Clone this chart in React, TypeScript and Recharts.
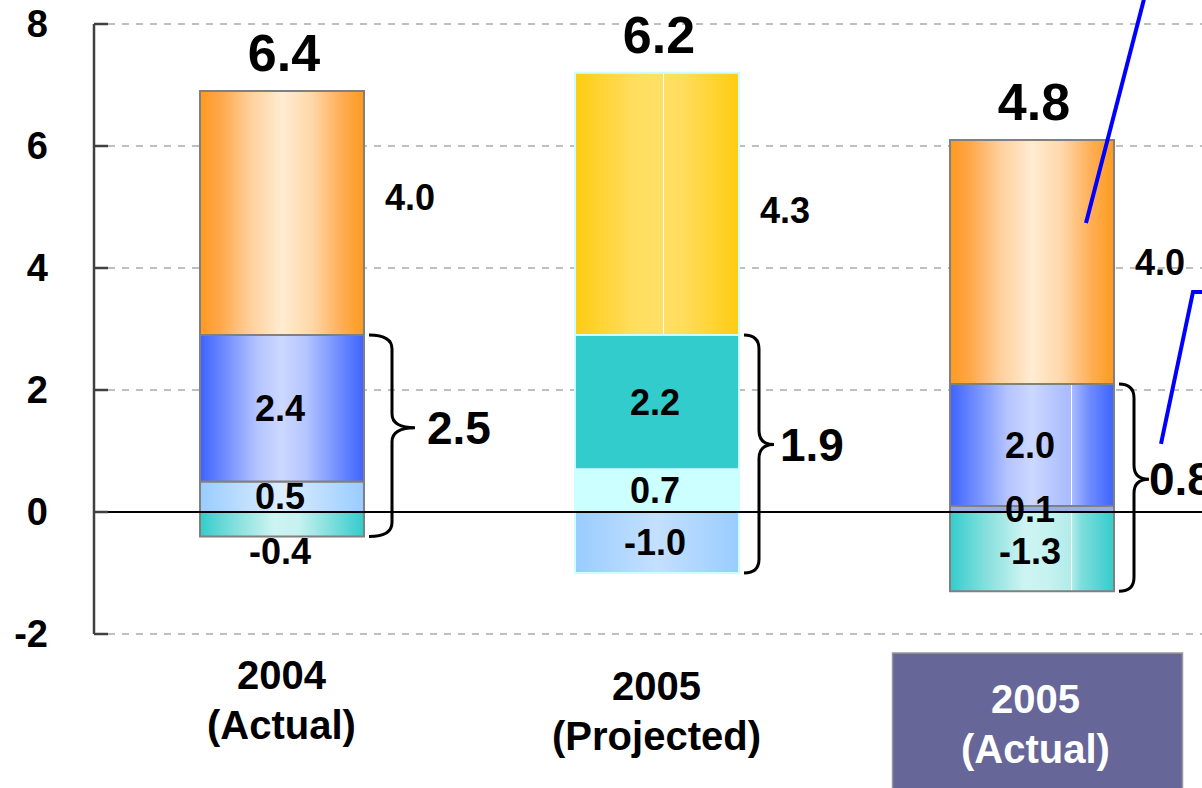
import { BarChart, Bar, XAxis, YAxis, CartesianGrid, ReferenceLine, LabelList, Cell } from 'recharts';

const categories = ['2004 (Actual)', '2005 (Projected)', '2005 (Actual)'];
const baseValues = [0.5, 0.7, 0.1];
const midValues = [2.4, 2.2, 2.0];
const topValues = [4.0, 4.3, 4.0];
const negValues = [-0.4, -1.0, -1.3];
const totals = [6.4, 6.2, 4.8];
const netValues = [2.5, 1.9, 0.8];
const yTicks = [-2, 0, 2, 4, 6, 8];

const data = categories.map((name, i) => ({
  name,
  base: baseValues[i],
  mid: midValues[i],
  top: topValues[i],
  neg: negValues[i],
}));

const FONT = '"Liberation Sans", Arial, sans-serif';

// per-category segment fills and outlines
const baseFills = ['url(#gPale)', '#CCFFFF', '#99AEE0'];
const midFills = ['url(#gBlue)', '#33CCCC', 'url(#gBlueCut)'];
const topFills = ['url(#gOrange)', 'url(#gYellow)', 'url(#gOrange)'];
const negFills = ['url(#gTeal)', 'url(#gSky)', 'url(#gTealCut)'];
const outlines = ['#808080', '#CCFFFF', '#808080'];
const labelDrop = [55, 66, 79];
const sideShift = [-16, 6, 0];
const braceReach = [46, 30, 30];
const braceGap = [12, 6, 0];

const fmt = (v: number) => v.toFixed(1);

const box = (p: any) => {
  const top = Math.min(p.y, p.y + p.height);
  const h = Math.abs(p.height);
  return { top, h, left: p.x, width: p.width, right: p.x + p.width, cx: p.x + p.width / 2 };
};

const Grad = ({ id, stops }: { id: string; stops: [number, string][] }) => (
  <linearGradient id={id} x1="0" y1="0" x2="1" y2="0">
    {stops.map(([o, c], i) => (
      <stop key={i} offset={o} stopColor={c} />
    ))}
  </linearGradient>
);

const withCut = (stops: [number, string][], at: number, c: string): [number, string][] =>
  [...stops.filter(s => s[0] < at), [at - 0.002, c], [at - 0.001, '#fff'], [at + 0.004, '#fff'], [at + 0.005, c], ...stops.filter(s => s[0] > at)];

const blueStops: [number, string][] = [[0, '#3D63FF'], [0.15, '#6F8CFF'], [0.35, '#B4C4FF'], [0.5, '#CCD8FF'], [0.65, '#B4C4FF'], [0.85, '#6F8CFF'], [1, '#3D63FF']];
const tealStops: [number, string][] = [[0, '#33CCCC'], [0.2, '#7FDEDC'], [0.45, '#CCF4F2'], [0.6, '#C6F2F0'], [0.8, '#7FDEDC'], [1, '#33CCCC']];

const ValueTick = ({ x, y, payload }: any) => (
  <g>
    <line x1={x} x2={x + 14} y1={y} y2={y} stroke="#404040" strokeWidth={2.5} />
    <text x={x - 46} y={y} dy="0.35em" textAnchor="end" fontSize={38} fontWeight="bold" fontFamily={FONT} fill="#000">
      {payload.value}
    </text>
  </g>
);

const CategoryTick = ({ x, y, payload, index }: any) => {
  const [year, kind] = String(payload.value).split(' ');
  const boxed = index === 2;
  const base = y + labelDrop[index];
  const tx = boxed ? x + 4 : x;
  return (
    <g fontFamily={FONT} fontWeight="bold" fontSize={40} textAnchor="middle" fill={boxed ? '#fff' : '#000'}>
      {boxed && <rect x={x - 139} y={y + 19} width={290} height={170} fill="#666699" stroke="#999999" strokeWidth={1.5} />}
      <text x={tx} y={base}>{year}</text>
      <text x={tx} y={base + 50}>{kind}</text>
    </g>
  );
};

const InnerLabel = (values: number[]) => (p: any) => {
  const { top, h, cx } = box(p);
  const v = values[p.index];
  const below = v < 0 && h < 30;
  const cy = below ? top + h + 15 : top + h / 2;
  return (
    <text x={cx - 2} y={cy} dy="0.35em" textAnchor="middle" fontSize={36} fontWeight="bold" fontFamily={FONT} fill="#000">
      {fmt(v)}
    </text>
  );
};

// bracket from the top of the middle segment down to the bottom of the negative one
const BraceLabel = (p: any) => {
  const { top, h, right, cx } = box(p);
  const i = p.index;
  const unit = h / midValues[i];
  const zeroY = top + h + baseValues[i] * unit;
  const bottom = zeroY - negValues[i] * unit;
  const x0 = right + 5;
  const xt = x0 + braceReach[i];
  const xv = x0 + braceReach[i] / 2;
  const r = 14;
  const tip = top + (bottom - top) * 0.46;
  const d = `M${x0},${top} Q${xv},${top} ${xv},${top + r} L${xv},${tip - r} Q${xv},${tip} ${xt},${tip} Q${xv},${tip} ${xv},${tip + r} L${xv},${bottom - r} Q${xv},${bottom} ${x0},${bottom}`;
  return (
    <g fontFamily={FONT} fontWeight="bold" fill="#000">
      <text x={cx - 2} y={top + h / 2} dy="0.35em" textAnchor="middle" fontSize={36}>
        {fmt(midValues[i])}
      </text>
      <path d={d} fill="none" stroke="#000" strokeWidth={3} />
      <text x={xt + braceGap[i]} y={tip} dy="0.35em" fontSize={46}>
        {fmt(netValues[i])}
      </text>
    </g>
  );
};

const TopLabel = (p: any) => {
  const { top, h, right, cx } = box(p);
  const i = p.index;
  return (
    <g fontFamily={FONT} fontWeight="bold" fill="#000">
      <text x={cx + 2} y={top - 20} textAnchor="middle" fontSize={52}>
        {fmt(totals[i])}
      </text>
      <text x={right + 21} y={top + h / 2 + sideShift[i]} dy="0.35em" fontSize={36}>
        {fmt(topValues[i])}
      </text>
      {i === 2 && (
        <g stroke="#0000FF" strokeWidth={4} fill="none">
          <line x1={right - 28} y1={top + 83} x2={right + 35} y2={top - 160} />
          <polyline points={`${right + 47},${top + 304} ${right + 79},${top + 152} ${right + 110},${top + 152}`} />
        </g>
      )}
    </g>
  );
};

export default function App() {
  return (
    <div style={{ position: 'absolute', left: 0, top: 0, width: 1202, height: 788, overflow: 'hidden', background: '#fff' }}>
      <BarChart
        width={1230}
        height={788}
        data={data}
        stackOffset="sign"
        barSize={164}
        margin={{ top: 24, right: 11, left: 0, bottom: 0 }}
      >
        <defs>
          <Grad id="gOrange" stops={[[0, '#FF9A1E'], [0.12, '#FFA648'], [0.3, '#FFCF99'], [0.5, '#FFECD2'], [0.68, '#FFD8AA'], [0.86, '#FFAE55'], [1, '#FF9A1E']]} />
          <Grad id="gBlue" stops={blueStops} />
          <Grad id="gBlueCut" stops={withCut(blueStops, 0.74, '#A9BAFF')} />
          <Grad id="gTeal" stops={tealStops} />
          <Grad id="gTealCut" stops={withCut(tealStops, 0.74, '#B0ECEA')} />
          <Grad id="gPale" stops={[[0, '#99CCFF'], [0.5, '#DDEEFF'], [1, '#99CCFF']]} />
          <Grad id="gSky" stops={[[0, '#99CCFF'], [0.5, '#C4E0FF'], [1, '#99CCFF']]} />
          <Grad id="gYellow" stops={withCut([[0, '#FFCC11'], [0.35, '#FFDD5E'], [0.5, '#FFE066'], [0.65, '#FFDD5E'], [1, '#FFCC11']], 0.54, '#FFDF62')} />
        </defs>
        <CartesianGrid vertical={false} stroke="#BFBFBF" strokeWidth={2} strokeDasharray="7 7" />
        <XAxis dataKey="name" height={154} axisLine={false} tickLine={false} tickSize={0} tickMargin={0} interval={0} tick={<CategoryTick />} />
        <YAxis
          type="number"
          width={94}
          domain={[-2, 8]}
          ticks={yTicks}
          axisLine={{ stroke: '#404040', strokeWidth: 2.5 }}
          tickLine={false}
          tickSize={0}
          tickMargin={0}
          tick={<ValueTick />}
        />
        <Bar dataKey="base" stackId="s" isAnimationActive={false}>
          {data.map((_, i) => (
            <Cell key={i} fill={baseFills[i]} stroke={outlines[i]} strokeWidth={2} />
          ))}
          <LabelList dataKey="base" content={InnerLabel(baseValues)} />
        </Bar>
        <Bar dataKey="mid" stackId="s" isAnimationActive={false}>
          {data.map((_, i) => (
            <Cell key={i} fill={midFills[i]} stroke={outlines[i]} strokeWidth={2} />
          ))}
          <LabelList dataKey="mid" content={BraceLabel} />
        </Bar>
        <Bar dataKey="top" stackId="s" isAnimationActive={false}>
          {data.map((_, i) => (
            <Cell key={i} fill={topFills[i]} stroke={outlines[i]} strokeWidth={2} />
          ))}
          <LabelList dataKey="top" content={TopLabel} />
        </Bar>
        <Bar dataKey="neg" stackId="s" isAnimationActive={false}>
          {data.map((_, i) => (
            <Cell key={i} fill={negFills[i]} stroke={outlines[i]} strokeWidth={2} />
          ))}
          <LabelList dataKey="neg" content={InnerLabel(negValues)} />
        </Bar>
        <ReferenceLine y={0} stroke="#000" strokeWidth={2} />
      </BarChart>
    </div>
  );
}
